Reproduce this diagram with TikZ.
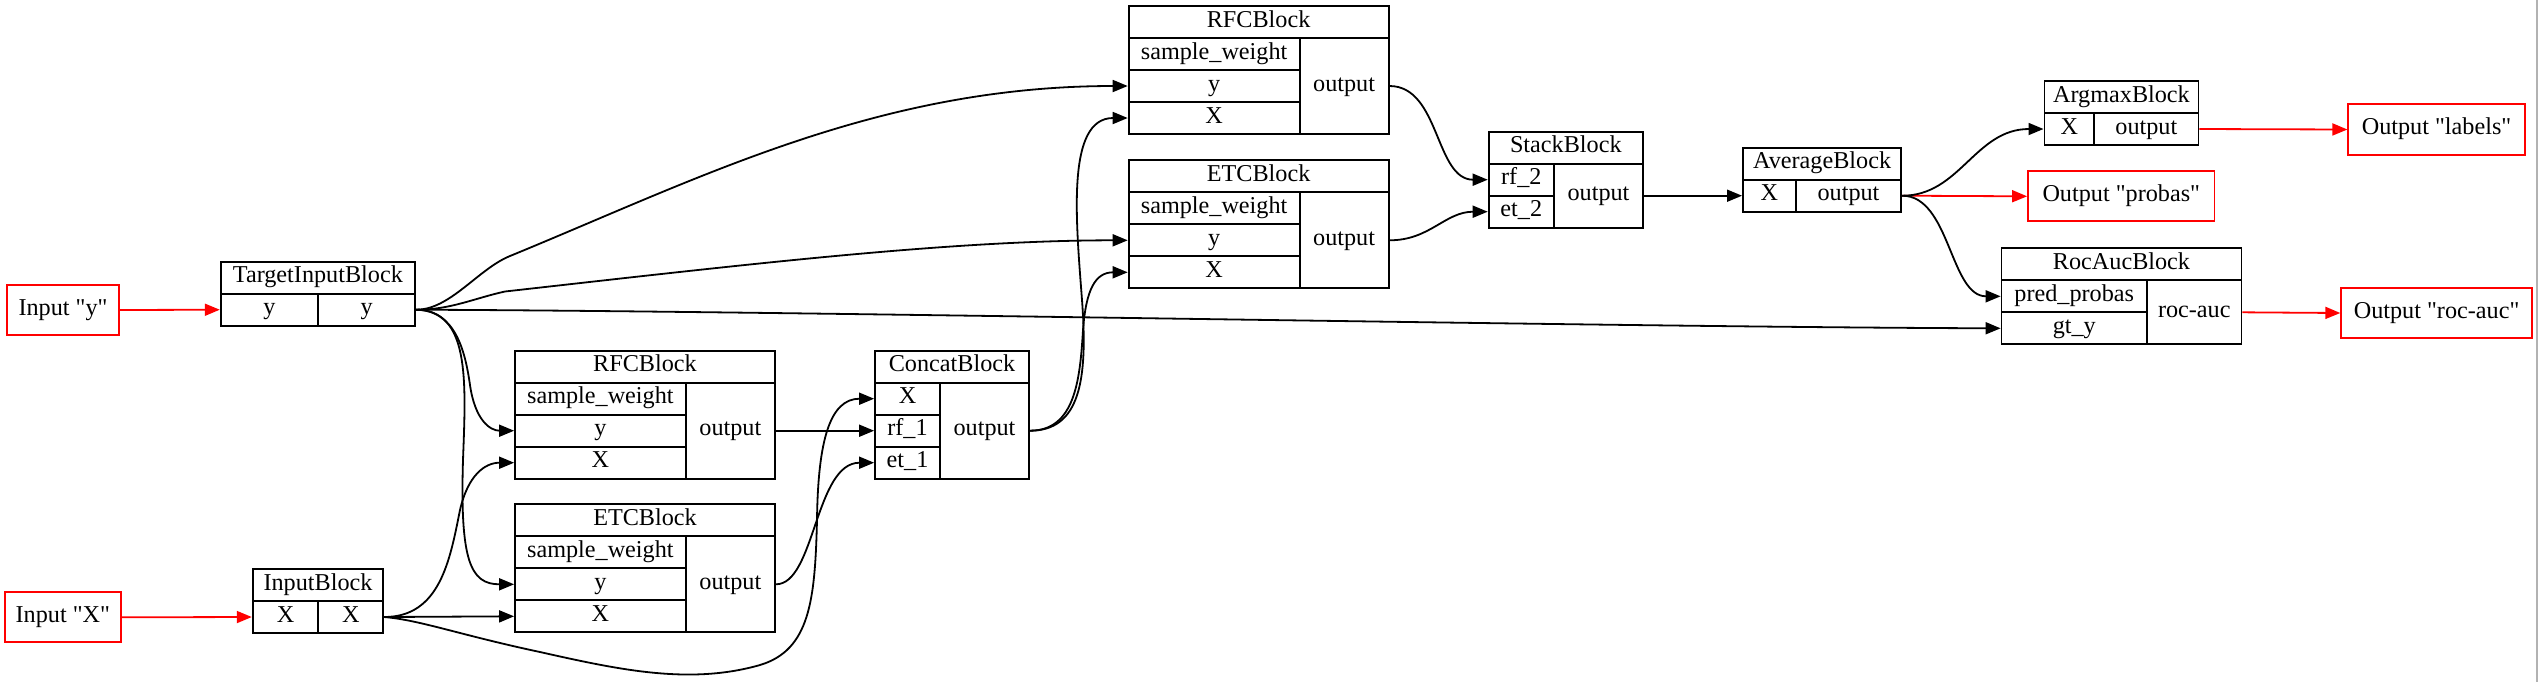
\documentclass[tikz,border=0pt]{standalone}
\usepackage{fontspec}
\setmainfont{Liberation Serif}[Ligatures=TeXOff]
\usetikzlibrary{fit,arrows.meta}
\tikzset{
  fld/.style={draw=black, line width=0.9pt, inner sep=0pt},
  redbox/.style={fld, draw=red},
  txt/.style={inner sep=0pt, text height=7.8pt, text depth=2.6pt,
    font=\fontsize{12.1pt}{14.5pt}\selectfont},
  edge/.style={draw=black, line width=0.9pt, -{Triangle[length=7.5pt,width=6pt]}},
  redge/.style={edge, draw=red, -{Triangle[length=7.5pt,width=6pt,fill=red]}, color=red},
}
\newcommand\myfld[4][fld]{\node[#1, fit={#3}] (#2) {};\node[txt] (#2-l) at (#2.center) {#4};}
\begin{document}
\begin{tikzpicture}[x=0.5pt, y=-0.5pt]
\useasboundingbox (0,0) rectangle (2538,682);
\draw[gray!60, line width=0.6pt] (2537,0) -- (2537,682);

% inputs
\myfld[redbox]{inY}{(6.7,285) (119.3,335)}{Input "y"}
\myfld[redbox]{inX}{(5,592.3) (120.7,642.3)}{Input "X"}

% TargetInputBlock
\myfld{tib-t}{(220.7,261.7) (415,293.7)}{TargetInputBlock}
\myfld{tib-y}{(220.7,293.7) (318.3,325.7)}{y}
\myfld{tib-o}{(318.3,293.7) (415,325.7)}{y}

% InputBlock
\myfld{ib-t}{(252.7,569) (383.3,601)}{InputBlock}
\myfld{ib-x}{(252.7,601) (318.3,633)}{X}
\myfld{ib-o}{(318.3,601) (383.3,633)}{X}

% RFCBlock (middle)
\myfld{rf1-t}{(515,350.7) (775,382.7)}{RFCBlock}
\myfld{rf1-sw}{(515,382.7) (685.7,414.7)}{sample\_weight}
\myfld{rf1-y}{(515,414.7) (685.7,446.7)}{y}
\myfld{rf1-x}{(515,446.7) (685.7,478.7)}{X}
\myfld{rf1-o}{(685.7,382.7) (775,478.7)}{output}

% ETCBlock (middle)
\myfld{et1-t}{(515,504.3) (775,536.3)}{ETCBlock}
\myfld{et1-sw}{(515,536.3) (685.7,568.3)}{sample\_weight}
\myfld{et1-y}{(515,568.3) (685.7,600.3)}{y}
\myfld{et1-x}{(515,600.3) (685.7,632.3)}{X}
\myfld{et1-o}{(685.7,536.3) (775,632.3)}{output}

% ConcatBlock
\myfld{cc-t}{(875,350.7) (1029,382.7)}{ConcatBlock}
\myfld{cc-x}{(875,382.7) (940,414.7)}{X}
\myfld{cc-rf}{(875,414.7) (940,446.7)}{rf\_1}
\myfld{cc-et}{(875,446.7) (940,478.7)}{et\_1}
\myfld{cc-o}{(940,382.7) (1029,478.7)}{output}

% RFCBlock (top)
\myfld{rf2-t}{(1128.6,6) (1388.6,38)}{RFCBlock}
\myfld{rf2-sw}{(1128.6,38) (1299.6,70)}{sample\_weight}
\myfld{rf2-y}{(1128.6,70) (1299.6,102)}{y}
\myfld{rf2-x}{(1128.6,102) (1299.6,134)}{X}
\myfld{rf2-o}{(1299.6,38) (1388.6,134)}{output}

% ETCBlock (top)
\myfld{et2-t}{(1128.6,160.3) (1388.6,192.3)}{ETCBlock}
\myfld{et2-sw}{(1128.6,192.3) (1299.6,224.3)}{sample\_weight}
\myfld{et2-y}{(1128.6,224.3) (1299.6,256.3)}{y}
\myfld{et2-x}{(1128.6,256.3) (1299.6,288.3)}{X}
\myfld{et2-o}{(1299.6,192.3) (1388.6,288.3)}{output}

% StackBlock
\myfld{st-t}{(1488.6,131.7) (1643,163.7)}{StackBlock}
\myfld{st-rf}{(1488.6,163.7) (1554,195.7)}{rf\_2}
\myfld{st-et}{(1488.6,195.7) (1554,227.7)}{et\_2}
\myfld{st-o}{(1554,163.7) (1643,227.7)}{output}

% AverageBlock
\myfld{av-t}{(1742.9,147.7) (1901.3,179.7)}{AverageBlock}
\myfld{av-x}{(1742.9,179.7) (1795.7,211.7)}{X}
\myfld{av-o}{(1795.7,179.7) (1901.3,211.7)}{output}

% ArgmaxBlock
\myfld{am-t}{(2044.4,81) (2198.5,113)}{ArgmaxBlock}
\myfld{am-x}{(2044.4,113) (2094.2,145)}{X}
\myfld{am-o}{(2094.2,113) (2198.5,145)}{output}

% RocAucBlock
\myfld{ra-t}{(2001.5,248.3) (2241.5,280.3)}{RocAucBlock}
\myfld{ra-pp}{(2001.5,280.3) (2147,312.3)}{pred\_probas}
\myfld{ra-gt}{(2001.5,312.3) (2147,344.3)}{gt\_y}
\myfld{ra-o}{(2147,280.3) (2241.5,344.3)}{roc-auc}

% outputs
\myfld[redbox]{outL}{(2348.3,104.3) (2524.8,154.7)}{Output "labels"}
\myfld[redbox]{outP}{(2028,171.3) (2214.5,221.3)}{Output "probas"}
\myfld[redbox]{outR}{(2341.2,288.3) (2532,337.7)}{Output "roc-auc"}

% red edges
\draw[redge] (inY.east) -- (tib-y.west);
\draw[redge] (inX.east) -- (ib-x.west);
\draw[redge] (am-o.east) -- (outL.west);
\draw[redge] (av-o.east) -- (outP.west);
\draw[redge] (ra-o.east) -- (outR.west);

% black edges from TargetInputBlock
\draw[edge] (tib-o.east) .. controls (450,310) and (478,269) .. (510,256)
  .. controls (700,178) and (878,86) .. (rf2-y.west);
\draw[edge] (tib-o.east) .. controls (450,310) and (475,298) .. (505,291.5)
  .. controls (750,264) and (950,240.3) .. (et2-y.west);
\draw[edge] (tib-o.east) .. controls (800,311) and (1600,327) .. (ra-gt.west);
\draw[edge] (tib-o.east) .. controls (455,310) and (465,350) .. (470,385)
  .. controls (475,420) and (490,430.7) .. (rf1-y.west);
\draw[edge] (tib-o.east) .. controls (470,310) and (466,380) .. (463,460)
  .. controls (460,560) and (470,584.3) .. (et1-y.west);

% edges from InputBlock
\draw[edge] (ib-o.east) .. controls (440,617) and (450,560) .. (460,510)
  .. controls (468,475) and (485,462.7) .. (rf1-x.west);
\draw[edge] (ib-o.east) -- (et1-x.west);
\draw[edge] (ib-o.east) .. controls (420,620) and (460,635) .. (540,652)
  .. controls (620,670) and (690,685) .. (760,665)
  .. controls (810,650) and (815,600) .. (817,520)
  .. controls (818,440) and (830,398.7) .. (cc-x.west);

% into ConcatBlock
\draw[edge] (rf1-o.east) -- (cc-rf.west);
\draw[edge] (et1-o.east) .. controls (815,584.3) and (815,462.7) .. (cc-et.west);

% from ConcatBlock
\draw[edge] (cc-o.east) .. controls (1080,430.7) and (1088,380) .. (1082,300)
  .. controls (1076,220) and (1066,118) .. (rf2-x.west);
\draw[edge] (cc-o.east) .. controls (1075,430.7) and (1080,380) .. (1083,330)
  .. controls (1086,290) and (1095,272.3) .. (et2-x.west);

% into StackBlock
\draw[edge] (rf2-o.east) .. controls (1440,86) and (1435,179.7) .. (st-rf.west);
\draw[edge] (et2-o.east) .. controls (1430,240.3) and (1445,211.7) .. (st-et.west);

% Stack -> Average
\draw[edge] (st-o.east) -- (av-x.west);

% from AverageBlock
\draw[edge] (av-o.east) .. controls (1960,195.7) and (1975,129) .. (am-x.west);
\draw[edge] (av-o.east) .. controls (1950,195.7) and (1950,296.3) .. (ra-pp.west);
\end{tikzpicture}
\end{document}
